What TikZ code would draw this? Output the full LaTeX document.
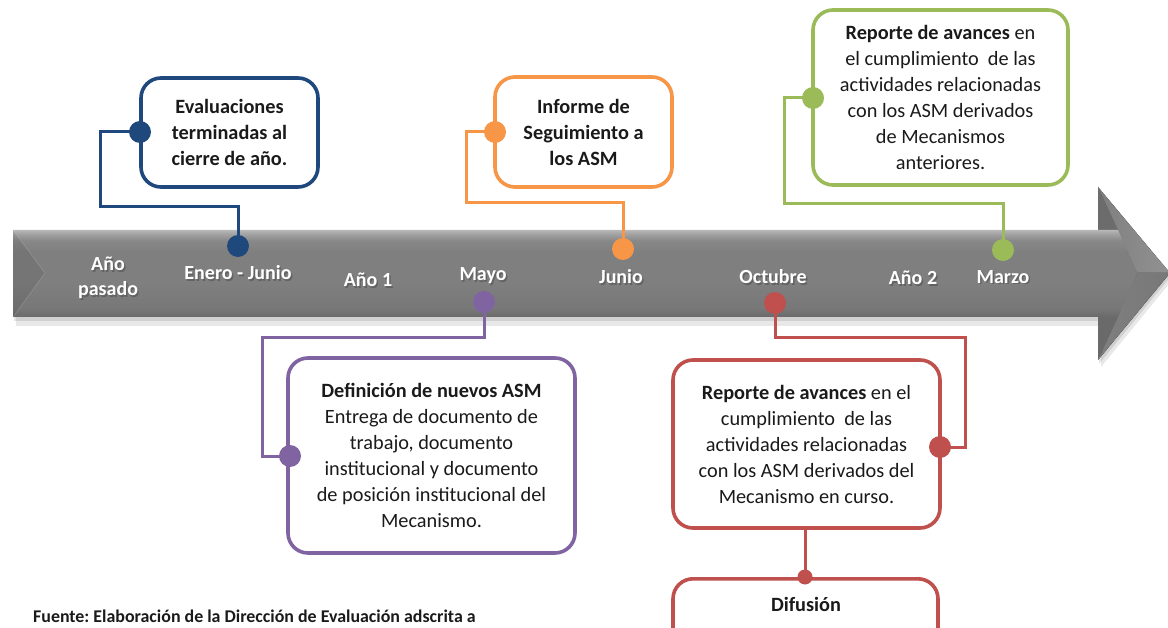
\documentclass[tikz,border=0pt]{standalone}
\usepackage{fontspec}
\setmainfont{Carlito}
\frenchspacing
\definecolor{cblue}{HTML}{1F497D}
\definecolor{corange}{HTML}{F79646}
\definecolor{cgreen}{HTML}{9BBB59}
\definecolor{cpurple}{HTML}{8064A2}
\definecolor{cred}{HTML}{C0504D}
\definecolor{gA}{HTML}{B8B8B8}
\definecolor{gB}{HTML}{A4A4A4}
\definecolor{gC}{HTML}{888888}
\definecolor{gD}{HTML}{7F7F7F}
\definecolor{gE}{HTML}{787878}
\definecolor{gF}{HTML}{6A6A6A}
\definecolor{gG}{HTML}{929292}
\definecolor{gH}{HTML}{6C6C6C}
\definecolor{txt}{HTML}{1A1A1A}
\pgfdeclareverticalshading{tlbody}{100bp}{color(0bp)=(gF); color(25bp)=(gF); color(30bp)=(gE); color(45bp)=(gD); color(62bp)=(gD); color(69bp)=(gC); color(73bp)=(gB); color(75bp)=(gA); color(100bp)=(gA)}
\begin{document}
\begin{tikzpicture}[x=1pt,y=-1pt,
  box/.style={draw, line width=3.6pt, rounded corners=20pt, fill=white, align=center,
    inner sep=0pt, text=txt, font=\fontsize{20.3}{26}\selectfont},
  conn/.style={line width=3pt},
  dot/.style={circle, inner sep=0pt, minimum size=22pt},
  sdot/.style={circle, inner sep=0pt, minimum size=15pt},
  tl/.style={text=white, font=\bfseries\fontsize{20}{25}\selectfont, align=center},
  tls/.style={text=black!70, opacity=.55, font=\bfseries\fontsize{20}{25}\selectfont, align=center}
]
\useasboundingbox (0,0) rectangle (1168,628);
\clip (0,0) rectangle (1168,628);
\fill[white] (0,0) rectangle (1168,628);

% shadow of the arrow
\fill[black, opacity=.09] (16,236) -- (1101,236) -- (1101,192) -- (1173,279) -- (1101,367) -- (1101,326) -- (16,326) -- cycle;
\fill[black, opacity=.10] (14,233) -- (1099,233) -- (1099,190) -- (1171,276) -- (1099,364) -- (1099,321) -- (14,321) -- cycle;

% arrow head
\fill[left color=gD, right color=gG] (1098,187) -- (1170,273) -- (1137,273) -- cycle;
\fill[left color=gD, right color=gE] (1098,360) -- (1170,273) -- (1137,273) -- cycle;
\fill[gH] (1098,187) -- (1118,230) -- (1098,230) -- cycle;
\fill[gF] (1098,360) -- (1118,317) -- (1098,317) -- cycle;
% body
\path[shading=tlbody] (13,230) -- (1118,230) -- (1137,273) -- (1118,317) -- (13,317) -- cycle;
\fill[black, opacity=.08] (13,230) -- (45,273) -- (13,317) -- cycle;
\draw[white, opacity=.18, line width=0.6pt] (13,230) -- (45,273) -- (13,317);

% labels on the arrow
\node[tls] (sA) at (109.5,279.5) {Año\\pasado};
\node[tl]  (lA) at (108,278) {Año\\pasado};
\node[tls] (sB) at (239.5,274.5) {Enero - Junio};
\node[tl]  (lB) at (238,273) {Enero - Junio};
\node[tls] (sC) at (369.5,281.5) {Año 1};
\node[tl]  (lC) at (368,280) {Año 1};
\node[tls] (sD) at (484.5,277.5) {Mayo};
\node[tl]  (lD) at (483,276) {Mayo};
\node[tls] (sE) at (622.5,278.5) {Junio};
\node[tl]  (lE) at (621,277) {Junio};
\node[tls] (sF) at (774.5,278.5) {Octubre};
\node[tl]  (lF) at (773,277) {Octubre};
\node[tls] (sG) at (914.5,279.5) {Año 2};
\node[tl]  (lG) at (913,278) {Año 2};
\node[tls] (sH) at (1004.5,278.5) {Marzo};
\node[tl]  (lH) at (1003,277) {Marzo};

% ---- blue: Enero - Junio
\node[box, draw=cblue, minimum width=177pt, minimum height=109pt] (bbox) at (229.5,132.5)
  {\textbf{Evaluaciones}\\\textbf{terminadas al}\\\textbf{cierre de año.}};
\coordinate (bc1) at (100,132);
\coordinate (bc2) at (100,207);
\draw[conn, cblue] (140,132) -- (bc1) -- (bc2) -| (238,246);
\node[dot, fill=cblue] (bdL) at (140,132) {};
\node[dot, fill=cblue] (bdA) at (238,246) {};

% ---- orange: Junio
\node[box, draw=corange, minimum width=177pt, minimum height=110pt] (obox) at (583.5,132)
  {\textbf{Informe de}\\\textbf{Seguimiento a}\\\textbf{los ASM}};
\coordinate (oc1) at (466,132);
\coordinate (oc2) at (466,203);
\draw[conn, corange] (495,132) -- (oc1) -- (oc2) -| (623,249);
\node[dot, fill=corange] (odL) at (495,132) {};
\node[dot, fill=corange] (odA) at (623,249) {};

% ---- green: Marzo
\node[box, draw=cgreen, minimum width=255pt, minimum height=175pt] (gbox) at (940.5,97.5)
  {\textbf{Reporte de avances} en\\el cumplimiento\ \ de las\\actividades relacionadas\\con los ASM derivados\\de Mecanismos\\anteriores.};
\coordinate (gc1) at (784,98);
\coordinate (gc2) at (784,204);
\draw[conn, cgreen] (813,98) -- (gc1) -- (gc2) -| (1003,250);
\node[dot, fill=cgreen] (gdL) at (813,98) {};
\node[dot, fill=cgreen] (gdA) at (1003,250) {};

% ---- purple: Mayo
\node[box, draw=cpurple, minimum width=287pt, minimum height=195pt] (pbox) at (431.5,455.5)
  {\textbf{Definición de nuevos ASM}\\Entrega de documento de\\trabajo, documento\\institucional y documento\\de posición institucional del\\Mecanismo.};
\coordinate (pc1) at (262,456);
\coordinate (pc2) at (262,338);
\draw[conn, cpurple] (290,456) -- (pc1) -- (pc2) -| (484,302);
\node[dot, fill=cpurple] (pdL) at (290,456) {};
\node[dot, fill=cpurple] (pdA) at (484,302) {};

% ---- red: Octubre
\node[box, draw=cred, minimum width=267pt, minimum height=168pt] (rbox) at (806.5,444)
  {\textbf{Reporte de avances} en el\\cumplimiento\ \ de las\\actividades relacionadas\\con los ASM derivados del\\Mecanismo en curso.};
\coordinate (rc1) at (965,447);
\coordinate (rc2) at (965,338);
\draw[conn, cred] (940,447) -- (rc1) -- (rc2) -| (775,303);
\node[dot, fill=cred] (rdR) at (940,447) {};
\node[dot, fill=cred] (rdA) at (775,303) {};

% ---- Difusión
\node[box, draw=cred, minimum width=265pt, minimum height=80pt, anchor=north] (dbox) at (805.5,577) {};
\node[text=txt, font=\bfseries\fontsize{20.3}{26}\selectfont] (dtxt) at (806,604) {Difusión};
\draw[conn, cred] (rbox.south -| 805,0) -- (805,577);
\node[sdot, fill=cred] (ddot) at (805,577) {};

% source
\node[anchor=base west, inner sep=0pt, text=txt, font=\bfseries\fontsize{17.9}{20}\selectfont] (src) at (33,622.5)
  {Fuente: Elaboración de la Dirección de Evaluación adscrita a};
\end{tikzpicture}
\end{document}
